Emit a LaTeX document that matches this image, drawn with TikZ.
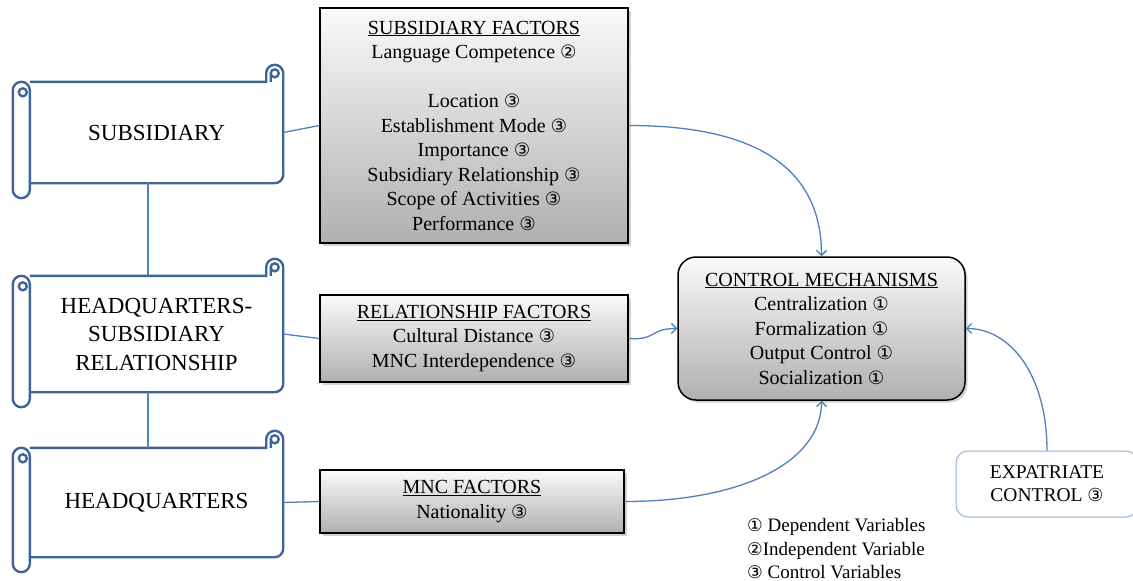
\documentclass[tikz,border=0pt]{standalone}
\usepackage{fontspec}
\setmainfont{Liberation Serif}
\newfontfamily\symfont{DejaVu Sans}[Scale=0.92]
\usetikzlibrary{arrows.meta,shadows,calc,backgrounds}

\definecolor{scrollblue}{RGB}{65,100,150}
\definecolor{linkblue}{RGB}{79,129,189}
\definecolor{paleblue}{RGB}{149,179,215}

\newcommand\cnum[1]{{\symfont #1}}

% scroll outline around a named (invisible) body node
\newcommand\scrollframe[1]{%
  \draw[scrollline, fill=white] let \p1=(#1.north west), \p2=(#1.south east) in
    (\x1,\y1) -- ({\x2-17pt},\y1) -- ({\x2-17pt},{\y1+8.5pt})
    arc[start angle=180,end angle=0,radius=8.5pt] -- (\x2,{\y2+8.5pt})
    arc[start angle=0,end angle=-90,radius=8.5pt] -- (\x1,\y2);
  \draw[scrollline] let \p1=(#1.north west), \p2=(#1.south east) in
    ({\x2-12.5pt},\y1) -- ({\x2-12.5pt},{\y1+8.5pt})
    ({\x2-8.5pt},{\y1+8.5pt}) circle[radius=4pt];
  \draw[scrollline, fill=white, rounded corners=8.5pt] let \p1=(#1.north west), \p2=(#1.south east) in
    ({\x1-17pt},\y1) rectangle (\x1,{\y2-15pt});
  \draw[scrollline] let \p1=(#1.north west) in
    ({\x1-7pt},{\y1-10.5pt}) circle[radius=4pt];
}

\begin{document}
\begin{tikzpicture}[x=1pt,y=-1pt,
  scrollline/.style={draw=scrollblue, line width=2.4pt},
  scrollbody/.style={inner sep=0pt, align=center, font=\fontsize{23}{28.5}\selectfont},
  factorbox/.style={draw=black, line width=1.3pt, top color=gray!4, bottom color=gray!62,
    drop shadow={shadow xshift=2.5pt, shadow yshift=-2.5pt, opacity=0.35},
    align=center, inner sep=0pt, font=\fontsize{20}{24.5}\selectfont},
  controlbox/.style={factorbox, rounded corners=18pt, line width=1.5pt},
  expatbox/.style={draw=paleblue, line width=1pt, fill=white, rounded corners=12pt,
    align=center, inner sep=0pt, font=\fontsize{19.5}{23}\selectfont},
  link/.style={draw=linkblue, line width=1.3pt},
  flow/.style={link, -{Straight Barb[length=5pt,width=10pt]}},
]
\clip (0,0) rectangle (1133,581);

% left-hand scrolls
\node[scrollbody, minimum width=253pt, minimum height=101pt] (subs) at (156.5,132.5) {SUBSIDIARY};
\node[scrollbody, minimum width=253pt, minimum height=116pt] (hqsr) at (156.5,334) {HEADQUARTERS-\\SUBSIDIARY\\RELATIONSHIP};
\node[scrollbody, minimum width=253pt, minimum height=109pt] (hq) at (156.5,502.5) {HEADQUARTERS};
\begin{scope}[on background layer]
  \fill[white] (0,0) rectangle (1133,581);
  \scrollframe{subs}
  \scrollframe{hqsr}
  \scrollframe{hq}
\end{scope}

% factor boxes
\node[factorbox, minimum width=308pt, minimum height=235pt] (subf) at (474,125.5)
  {\underline{SUBSIDIARY FACTORS}\\
   Language Competence \cnum{②}\\[24.5pt]
   Location \cnum{③}\\
   Establishment Mode \cnum{③}\\
   Importance \cnum{③}\\
   Subsidiary Relationship \cnum{③}\\
   Scope of Activities \cnum{③}\\
   Performance \cnum{③}};
\node[factorbox, minimum width=308pt, minimum height=87pt] (relf) at (474,338.5)
  {\underline{RELATIONSHIP FACTORS}\\
   Cultural Distance \cnum{③}\\
   MNC Interdependence \cnum{③}};
\node[factorbox, minimum width=304pt, minimum height=63pt] (mncf) at (472,501.5)
  {\underline{MNC FACTORS}\\
   Nationality \cnum{③}};

% outcome and moderator
\node[controlbox, minimum width=287pt, minimum height=143pt] (ctrl) at (821.5,328.5)
  {\underline{CONTROL MECHANISMS}\\
   Centralization \cnum{①}\\
   Formalization \cnum{①}\\
   Output Control \cnum{①}\\
   Socialization \cnum{①}};
\node[expatbox, minimum width=182pt, minimum height=66pt] (expat) at (1047,484)
  {EXPATRIATE\\CONTROL \cnum{③}};

% legend
\node[anchor=west, inner sep=0pt, align=left, font=\fontsize{19}{23.5}\selectfont] (legend) at (747,549)
  {\cnum{①} Dependent Variables\\\cnum{②}Independent Variable\\\cnum{③} Control Variables};

% plain links
\draw[link] ([xshift=-8.5pt]subs.south) -- ([xshift=-8.5pt]hqsr.north);
\draw[link] ([xshift=-8.5pt]hqsr.south) -- ([xshift=-8.5pt]hq.north);
\draw[link] (subs.east) -- (subf.west);
\draw[link] (hqsr.east) -- (relf.west);
\draw[link] (hq.east) -- (mncf.west);

% arrows into control mechanisms
\draw[flow] (subf.east) .. controls +(125,0) and +(0,-90) .. (ctrl.north);
\draw[flow] (relf.east) .. controls +(28,2) and +(-28,0) .. (ctrl.west);
\draw[flow] (mncf.east) .. controls +(120,0) and +(0,60) .. (ctrl.south);
\draw[flow] (expat.north) .. controls +(0,-75) and +(45,0) .. (ctrl.east);
\end{tikzpicture}
\end{document}
